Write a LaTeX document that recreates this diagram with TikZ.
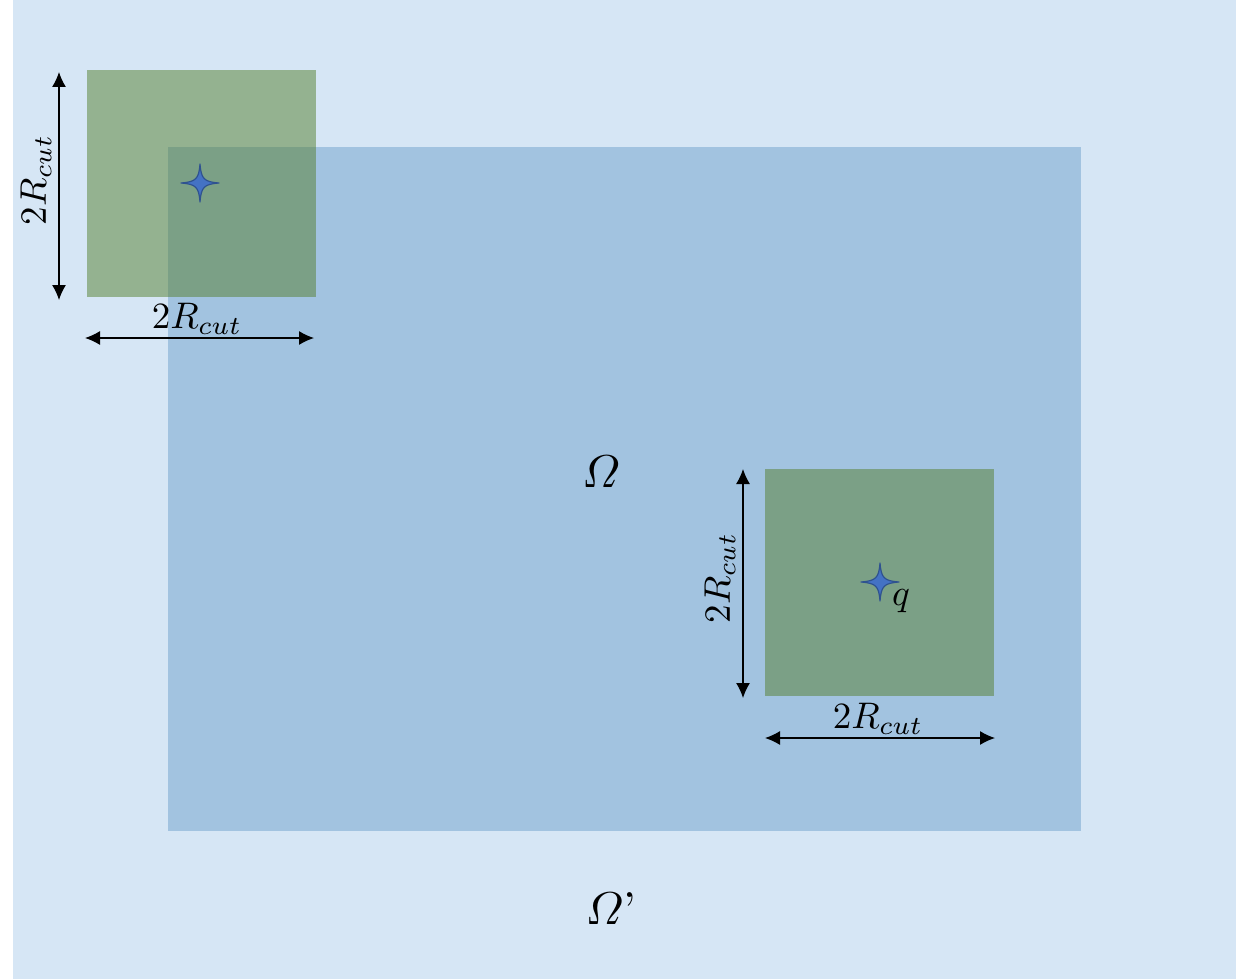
\documentclass[tikz,border=0pt]{standalone}
\usepackage{amsmath}
\usepackage{graphicx}
\usetikzlibrary{arrows.meta}
\definecolor{bgout}{HTML}{D6E6F5}
\definecolor{bgin}{HTML}{A2C3E0}
\definecolor{grn}{HTML}{94B290}
\definecolor{dgrn}{HTML}{7BA086}
\definecolor{starfill}{HTML}{4472C4}
\definecolor{staredge}{HTML}{2F528F}
\tikzset{
  dim/.style={line width=1.3pt,{Latex[length=15pt,width=14pt]}-{Latex[length=15pt,width=14pt]}},
  lbl/.style={inner sep=0pt},
  starpath/.style={fill=starfill,draw=staredge,line width=1.2pt,line join=round}
}
\newcommand{\bigtxt}[1]{\scalebox{3.7}{#1}}
\newcommand{\hugetxt}[1]{\scalebox{4.6}{#1}}
\newcommand{\mystar}[1]{\begin{scope}[shift={(#1)}]
\path[starpath] (0,-19) .. controls (1.2,-4) and (4,-1.2) .. (19,0) .. controls (4,1.2) and (1.2,4) .. (0,19) .. controls (-1.2,4) and (-4,1.2) .. (-19,0) .. controls (-4,-1.2) and (-1.2,-4) .. (0,-19) -- cycle;
\end{scope}}
\begin{document}
\begin{tikzpicture}[x=1pt,y=-1pt]
\useasboundingbox (0,0) rectangle (1236,979);
\fill[white] (0,0) rectangle (1236,979);
\fill[bgout] (13,0) rectangle (1236,979);
\fill[grn] (87,70) rectangle (316,297);
\fill[bgin] (168,147) rectangle (1081,831);
\fill[dgrn] (168,147) rectangle (316,297);
\fill[dgrn] (765,469) rectangle (994,696);
\coordinate (s1) at (200,183);
\coordinate (s2) at (880,582);
\mystar{s1}
\mystar{s2}
% dimension arrows
\coordinate (a1t) at (59,72);
\coordinate (a1b) at (59,300);
\coordinate (a2l) at (85,338);
\coordinate (a2r) at (314,338);
\coordinate (a3t) at (743,469);
\coordinate (a3b) at (743,698);
\coordinate (a4l) at (765,738);
\coordinate (a4r) at (995,738);
\draw[dim] (a1t) -- (a1b);
\draw[dim] (a2l) -- (a2r);
\draw[dim] (a3t) -- (a3b);
\draw[dim] (a4l) -- (a4r);
\node[lbl,rotate=90] (l1) at (36,180) {\bigtxt{$2R_{cut}$}};
\node[lbl] (l2) at (197,319) {\bigtxt{$2R_{cut}$}};
\node[lbl,rotate=90] (l3) at (720,578) {\bigtxt{$2R_{cut}$}};
\node[lbl] (l4) at (878,719) {\bigtxt{$2R_{cut}$}};
\node[lbl] (q) at (901,601) {\bigtxt{$q$}};
\node[lbl] (om) at (601,472) {\hugetxt{$\varOmega$}};
\node[lbl] (omp) at (611,909) {\hugetxt{$\varOmega$’}};
\end{tikzpicture}
\end{document}
